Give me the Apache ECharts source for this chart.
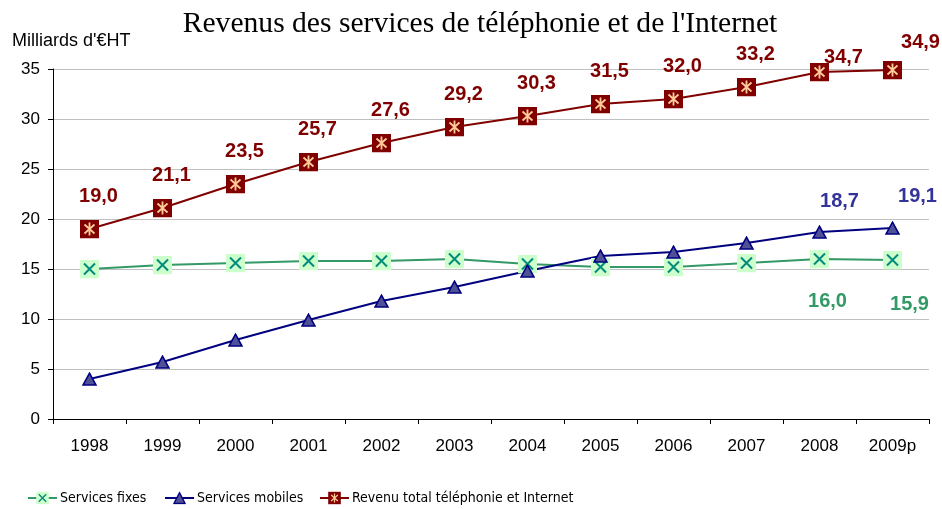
<!DOCTYPE html>
<html>
<head>
<meta charset="utf-8">
<title>Revenus des services de téléphonie et de l'Internet</title>
<script src="https://cdn.jsdelivr.net/npm/echarts@6/dist/echarts.min.js"></script>
<style>
  html, body { margin: 0; padding: 0; background: #fff; }
  #chart { width: 942px; height: 509px; }
</style>
</head>
<body>
<div id="chart"></div>
<script>
// values (milliards d'euros HT)
const years = ['1998', '1999', '2000', '2001', '2002', '2003', '2004', '2005', '2006', '2007', '2008', '2009p']
const servicesFixes = [15.0, 15.4, 15.6, 15.8, 15.8, 16.0, 15.5, 15.2, 15.2, 15.6, 16.0, 15.9]
const servicesMobiles = [4.0, 5.7, 7.9, 9.9, 11.8, 13.2, 14.8, 16.3, 16.7, 17.6, 18.7, 19.1]
const revenuTotal = [19.0, 21.1, 23.5, 25.7, 27.6, 29.2, 30.3, 31.5, 32.0, 33.2, 34.7, 34.9]
const seriesNames = ['Services fixes', 'Services mobiles', 'Revenu total téléphonie et Internet']

function svgSymbol(svg) {
  return 'image://data:image/svg+xml;charset=utf-8,' + encodeURIComponent(svg)
}

const fixeSymbol = svgSymbol(
  "<svg xmlns='http://www.w3.org/2000/svg' width='19' height='19'>" +
  "<rect width='19' height='19' fill='#ccffcc'/>" +
  "<path d='M4 4L15 15M15 4L4 15' stroke='#008b7a' stroke-width='2' fill='none'/></svg>")
const mobileSymbol = svgSymbol(
  "<svg xmlns='http://www.w3.org/2000/svg' width='15' height='14'>" +
  "<path d='M7.5 1.2L14 13H1z' fill='#505096' stroke='#000080' stroke-width='1.6'/></svg>")
const totalSymbol = svgSymbol(
  "<svg xmlns='http://www.w3.org/2000/svg' width='19' height='19'>" +
  "<rect width='19' height='19' fill='#800000'/>" +
  "<path d='M9.5 3V16M4.5 5L14.5 14M14.5 5L4.5 14' stroke='#ffcc99' stroke-width='1.8' fill='none'/></svg>")

const fmt = function(p) {
  return p.value.toFixed(1).replace('.', ',')
}
const labelFont = 'Liberation Sans, Arial, sans-serif'
const legendFont = 'Liberation Sans Narrow, DejaVu Sans Condensed, sans-serif'

// only the last two points of the lower series carry a label
function lastTwoLabels(values, offsets) {
  return values.map(function(v, i) {
    const k = i - (values.length - 2)
    if (k < 0) return v
    return { value: v, label: { show: true, offset: offsets[k] } }
  })
}

const chart = echarts.init(document.getElementById('chart'))

chart.setOption({
  animation: false,
  backgroundColor: '#ffffff',
  graphic: [
    {
      type: 'text',
      x: 480,
      y: 24,
      style: {
        text: "Revenus des services de téléphonie et de l'Internet",
        font: '29.6px "Liberation Serif", "Times New Roman", serif',
        fill: '#000',
        textAlign: 'center',
        textVerticalAlign: 'middle'
      }
    },
    {
      type: 'text',
      x: 12,
      y: 41,
      style: {
        text: "Milliards d'€HT",
        font: '18px "Liberation Sans", Arial, sans-serif',
        fill: '#000',
        textAlign: 'left',
        textVerticalAlign: 'middle'
      }
    }
  ],
  grid: {
    left: 53,
    right: 13,
    top: 69,
    bottom: 90
  },
  legend: [
    { left: 27, data: [seriesNames[0]] },
    { left: 164, data: [seriesNames[1]] },
    { left: 319, data: [seriesNames[2]] }
  ].map(function(l) {
    return Object.assign({
      top: 491,
      padding: 0,
      itemWidth: 29,
      itemHeight: 16,
      itemGap: 0,
      textStyle: { fontFamily: legendFont, fontSize: 14, color: '#000', padding: [0, 0, 0, -2] }
    }, l)
  }),
  xAxis: {
    type: 'category',
    data: years,
    boundaryGap: true,
    axisLine: { lineStyle: { color: '#000', width: 1 } },
    axisTick: { show: true, interval: 0, length: 5, lineStyle: { color: '#000' } },
    axisLabel: { interval: 0, margin: 19, fontSize: 17, color: '#000', fontFamily: labelFont },
    splitLine: { show: false }
  },
  yAxis: {
    type: 'value',
    min: 0,
    max: 35,
    interval: 5,
    axisLine: { show: true, lineStyle: { color: '#000', width: 1 } },
    axisTick: { show: true, length: 5, lineStyle: { color: '#000' } },
    axisLabel: { margin: 13, fontSize: 17, color: '#000', fontFamily: labelFont },
    splitLine: { show: true, lineStyle: { color: '#c0c0c0', width: 1 } }
  },
  series: [
    {
      name: seriesNames[0],
      type: 'line',
      symbol: fixeSymbol,
      symbolSize: 19,
      lineStyle: { color: '#339966', width: 2 },
      itemStyle: { color: '#339966' },
      label: {
        show: false,
        position: 'inside',
        formatter: fmt,
        color: '#339966',
        fontSize: 20,
        fontWeight: 'bold',
        fontFamily: labelFont
      },
      data: lastTwoLabels(servicesFixes, [[8, 42], [17, 44]])
    },
    {
      name: seriesNames[1],
      type: 'line',
      symbol: mobileSymbol,
      symbolSize: [15, 14],
      lineStyle: { color: '#000080', width: 2 },
      itemStyle: { color: '#000080' },
      label: {
        show: false,
        position: 'inside',
        formatter: fmt,
        color: '#333399',
        fontSize: 20,
        fontWeight: 'bold',
        fontFamily: labelFont
      },
      data: lastTwoLabels(servicesMobiles, [[20, -31], [25, -32]])
    },
    {
      name: seriesNames[2],
      type: 'line',
      symbol: totalSymbol,
      symbolSize: 19,
      lineStyle: { color: '#800000', width: 2 },
      itemStyle: { color: '#800000' },
      label: {
        show: true,
        position: 'inside',
        offset: [9, -33],
        formatter: fmt,
        color: '#800000',
        fontSize: 20,
        fontWeight: 'bold',
        fontFamily: labelFont
      },
      data: revenuTotal.map(function(v, i) {
        if (i === 10) return { value: v, label: { offset: [24, -15] } }
        if (i === 11) return { value: v, label: { offset: [28, -28] } }
        return v
      })
    }
  ]
})
</script>
</body>
</html>
